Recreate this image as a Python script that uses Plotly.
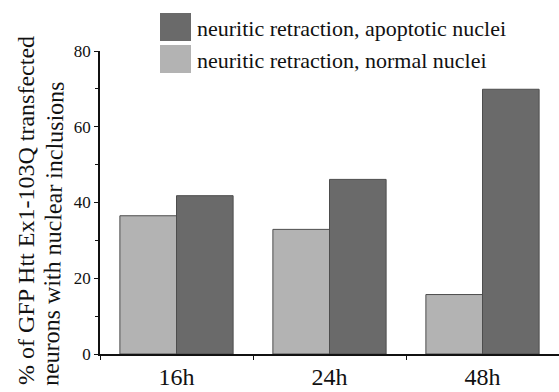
import plotly.graph_objects as go

# Time points and percentages of transfected neurons
timepoints = ["16h", "24h", "48h"]
normal_nuclei = [36.5, 32.9, 15.7]
apoptotic_nuclei = [41.8, 46.1, 69.9]
series_names = ["neuritic retraction, apoptotic nuclei", "neuritic retraction, normal nuclei"]
y_tick_values = [0, 20, 40, 60, 80]
y_title_lines = ["% of GFP Htt Ex1-103Q transfected", "neurons with nuclear inclusions"]

DARK = "#6a6a6a"
LIGHT = "#b3b3b3"
EDGE = "#4d4d4d"
FONT = "Liberation Serif, Times New Roman, serif"

W, H = 559, 392
ML, MR, MT, MB = 100, 0, 51, 38
PW, PH = W - ML - MR, H - MT - MB

def px(x):
    return (x - ML) / PW

def py(y):
    return (H - MB - y) / PH

fig = go.Figure()
fig.add_trace(go.Bar(x=timepoints, y=normal_nuclei, name=series_names[1],
                     marker=dict(color=LIGHT, line=dict(color=EDGE, width=1))))
fig.add_trace(go.Bar(x=timepoints, y=apoptotic_nuclei, name=series_names[0],
                     marker=dict(color=DARK, line=dict(color=EDGE, width=1))))

# Legend swatches and labels
shapes = []
annotations = []
for i, (name, col) in enumerate(zip(series_names, [DARK, LIGHT])):
    top = 13 + i * 32
    shapes.append(dict(type="rect", xref="paper", yref="paper",
                       x0=px(160), x1=px(191), y0=py(top + 28), y1=py(top),
                       fillcolor=col, line=dict(width=0)))
    annotations.append(dict(text=name, xref="paper", yref="paper",
                            x=px(195), y=py(top + 15), xanchor="left", yanchor="middle",
                            showarrow=False, font=dict(family=FONT, size=22, color="#111")))

# Two-line rotated axis title
for xc, yc, ang, line in zip([26, 53], [211, 234], [-90, -89], y_title_lines):
    annotations.append(dict(text=line, xref="paper", yref="paper",
                            x=px(xc), y=py(yc), xanchor="center", yanchor="middle",
                            textangle=ang, showarrow=False,
                            font=dict(family=FONT, size=24, color="#111")))

fig.update_layout(
    width=W, height=H,
    margin=dict(l=ML, r=MR, t=MT, b=MB, pad=0),
    paper_bgcolor="white", plot_bgcolor="white",
    barmode="group", bargap=0.26, bargroupgap=0,
    showlegend=False,
    shapes=shapes, annotations=annotations,
    font=dict(family=FONT, color="#111"),
)
fig.update_xaxes(showline=True, linecolor="#111", linewidth=1.5,
                 ticks="outside", tickson="boundaries", ticklen=4, tickcolor="#111",
                 tickfont=dict(family=FONT, size=24, color="#111"), showgrid=False)
fig.update_yaxes(range=[0, 80], tickvals=y_tick_values, showline=True, linecolor="#111",
                 linewidth=1.5, ticks="outside", ticklen=4, tickcolor="#111",
                 minor=dict(ticks="outside", ticklen=3, dtick=10, tickcolor="#111"),
                 tickfont=dict(family=FONT, size=17, color="#111"), showgrid=False,
                 zeroline=False)

fig.write_html("out.html")
